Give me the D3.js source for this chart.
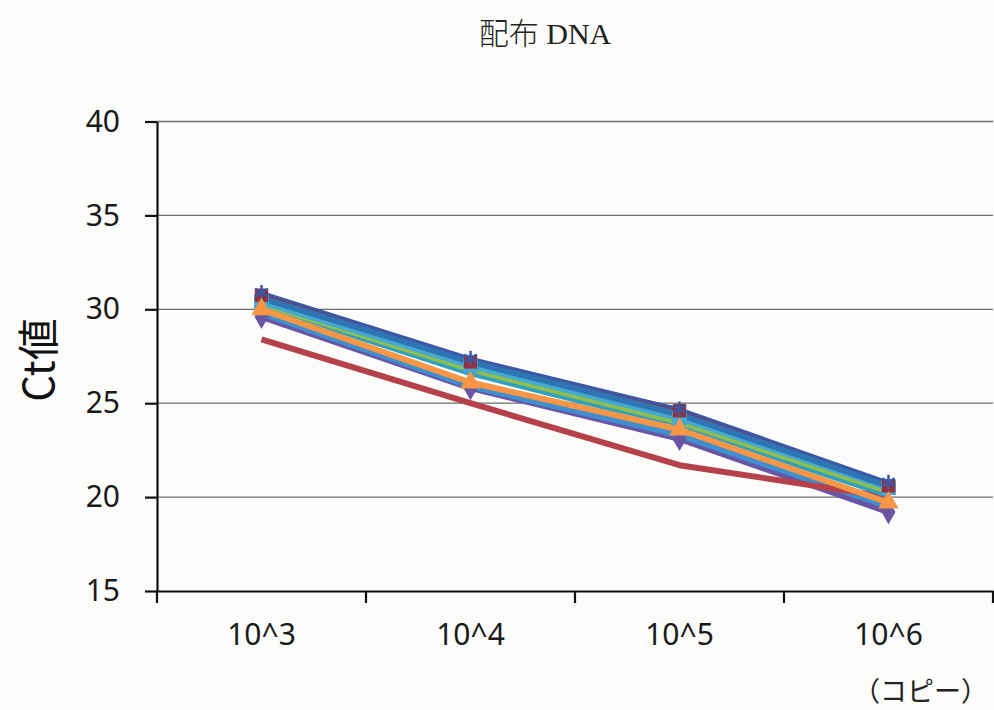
<!DOCTYPE html>
<html>
<head>
<meta charset="utf-8">
<script src="https://cdn.jsdelivr.net/npm/d3@7/dist/d3.min.js"></script>
<style>
  html, body { margin: 0; padding: 0; background: #fcfcfa; }
  svg { display: block; }
</style>
</head>
<body>
<svg id="chart" width="994" height="710"></svg>
<script>
// Copy-number categories on the x axis
const categories = ["10^3", "10^4", "10^5", "10^6"];
const yTicks = [15, 20, 25, 30, 35, 40];

// Ct values per run
const runMaroon = [30.75, 27.2, 24.6, 20.6];
const runNavy   = [30.9, 27.4, 24.7, 20.8];
const runBlue   = [30.6, 27.2, 24.4, 20.6];
const runCyan   = [30.4, 27.0, 24.2, 20.5];
const runGreen  = [30.3, 26.8, 24.0, 20.3];
const runTeal   = [30.2, 26.6, 23.8, 20.1];
const runOrange = [30.0, 26.1, 23.6, 19.7];
const runSky    = [29.8, 25.9, 23.3, 19.5];
const runPurple = [29.6, 25.8, 23.1, 19.2];
const runRed    = [28.4, 25.0, 21.7, 20.0];

// line stacking order (first drawn at the bottom)
const series = [
  { name: "maroon", values: runMaroon, color: "#963040", marker: "square", size: 180, width: 6, mOrder: 2 },
  { name: "purple", values: runPurple, color: "#6A55A5", marker: "diamond", size: 170, width: 6, mOrder: 0 },
  { name: "sky",    values: runSky,    color: "#3D8FD0", marker: "none", width: 6 },
  { name: "red",    values: runRed,    color: "#B5424A", marker: "none", width: 6 },
  { name: "teal",   values: runTeal,   color: "#31A0BF", marker: "none", width: 6 },
  { name: "green",  values: runGreen,  color: "#8FBE50", marker: "none", width: 6 },
  { name: "cyan",   values: runCyan,   color: "#45A9D0", marker: "square", size: 220, width: 6, mOrder: 1 },
  { name: "blue",   values: runBlue,   color: "#2E75B6", marker: "none", width: 6 },
  { name: "navy",   values: runNavy,   color: "#3A58A6", marker: "asterisk", size: 150, width: 3, mOrder: 3 },
  { name: "orange", values: runOrange, color: "#F79646", marker: "triangle", size: 180, width: 6, mOrder: 4 }
];

const svg = d3.select("#chart");
const plot = { left: 157, right: 993, top: 121.5, bottom: 591 };

const x = d3.scaleBand().domain(categories).range([plot.left, plot.right]).padding(0);
const y = d3.scaleLinear().domain([15, 40]).range([plot.bottom, plot.top]);
const cx = d => x(d) + x.bandwidth() / 2;

// title
const title = svg.append("text")
  .attr("x", 545).attr("y", 44)
  .attr("text-anchor", "middle")
  .attr("font-family", "'Liberation Serif', 'Noto Sans CJK JP', serif")
  .attr("font-size", 30)
  .attr("fill", "#222");
title.append("tspan").attr("font-family", "'Noto Sans CJK JP'").attr("font-weight", 300).text("配布");
title.append("tspan").text(" DNA");

// horizontal gridlines
svg.append("g")
  .selectAll("line")
  .data(yTicks.filter(t => t > 15))
  .join("line")
  .attr("x1", plot.left).attr("x2", plot.right)
  .attr("y1", d => y(d)).attr("y2", d => y(d))
  .attr("stroke", "#6e6e6e").attr("stroke-width", 1.3);

// y axis
const yAxis = svg.append("g")
  .attr("transform", `translate(${plot.left},0)`)
  .call(d3.axisLeft(y).tickValues(yTicks).tickSize(12).tickPadding(25).tickSizeOuter(0));
yAxis.select(".domain").attr("stroke", "#111").attr("stroke-width", 2.2);
yAxis.selectAll(".tick line").attr("stroke", "#111").attr("stroke-width", 2.2);
yAxis.selectAll(".tick text")
  .attr("font-family", "'Noto Sans', 'Open Sans', sans-serif")
  .attr("font-size", 30).attr("fill", "#1a1a1a");

// x axis
const xAxis = svg.append("g")
  .attr("transform", `translate(0,${plot.bottom})`)
  .call(d3.axisBottom(x).tickSize(0).tickPadding(33));
xAxis.select(".domain").attr("stroke", "#111").attr("stroke-width", 2.2);
xAxis.selectAll(".tick text")
  .attr("font-family", "'Noto Sans', 'Open Sans', sans-serif")
  .attr("font-size", 30).attr("fill", "#1a1a1a");
// category boundary ticks
const boundaries = categories.map(c => x(c)).concat([plot.right]);
svg.append("g")
  .selectAll("line")
  .data(boundaries)
  .join("line")
  .attr("x1", d => d).attr("x2", d => d)
  .attr("y1", plot.bottom).attr("y2", plot.bottom + 12)
  .attr("stroke", "#111").attr("stroke-width", 2.2);

// axis titles
svg.append("text")
  .attr("transform", "translate(54,360) rotate(-90)")
  .attr("text-anchor", "middle")
  .attr("font-family", "'Noto Sans CJK JP', 'Noto Sans', sans-serif")
  .attr("font-size", 42).attr("fill", "#111")
  .text("Ct値");

svg.append("text")
  .attr("x", 988).attr("y", 701)
  .attr("text-anchor", "end")
  .attr("font-family", "'Noto Sans CJK JP', sans-serif")
  .attr("font-size", 27).attr("fill", "#222")
  .text("（コピー）");

// lines
const line = d3.line()
  .x((d, i) => cx(categories[i]))
  .y(d => y(d));

const symbolTypes = {
  diamond: d3.symbolDiamond,
  square: d3.symbolSquare,
  triangle: d3.symbolTriangle,
  asterisk: d3.symbolAsterisk
};

const linesG = svg.append("g");
linesG.selectAll("path")
  .data(series)
  .join("path")
  .attr("d", s => line(s.values))
  .attr("fill", "none")
  .attr("stroke", s => s.color)
  .attr("stroke-width", s => s.width)
  .attr("stroke-linejoin", "round");

// markers drawn above the lines
const markersG = svg.append("g");
series.filter(s => s.marker !== "none")
  .sort((a, b) => a.mOrder - b.mOrder)
  .forEach(s => {
    const g = markersG.append("g");
    const isStroke = s.marker === "asterisk";
    g.selectAll("path")
      .data(s.values)
      .join("path")
      .attr("transform", (d, i) => `translate(${cx(categories[i])},${y(d)})`)
      .attr("d", d3.symbol().type(symbolTypes[s.marker]).size(s.size))
      .attr("fill", isStroke ? "none" : s.color)
      .attr("stroke", isStroke ? s.color : "none")
      .attr("stroke-width", isStroke ? 2.5 : 0);
  });
</script>
</body>
</html>
